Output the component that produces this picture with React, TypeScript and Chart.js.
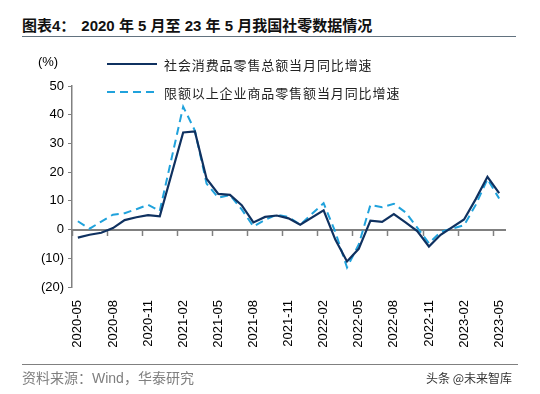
import React, { useEffect, useRef } from "react";
import { Chart, registerables } from "chart.js";

Chart.register(...registerables);

const months = [
  "2020-05", "2020-06", "2020-07", "2020-08", "2020-09", "2020-10", "2020-11", "2020-12",
  "2021-01", "2021-02", "2021-03", "2021-04", "2021-05", "2021-06", "2021-07", "2021-08",
  "2021-09", "2021-10", "2021-11", "2021-12", "2022-01", "2022-02", "2022-03", "2022-04",
  "2022-05", "2022-06", "2022-07", "2022-08", "2022-09", "2022-10", "2022-11", "2022-12",
  "2023-01", "2023-02", "2023-03", "2023-04", "2023-05",
];

const retailTotal: (number | null)[] = [
  -2.8, -1.8, -1.1, 0.5, 3.3, 4.3, 5.0, 4.6,
  null, 33.8, 34.2, 17.7, 12.4, 12.1, 8.5, 2.5,
  4.4, 4.9, 3.9, 1.7, null, 6.7, -3.5, -11.1,
  -6.7, 3.1, 2.7, 5.4, 2.5, -0.5, -5.9, -1.8,
  null, 3.5, 10.6, 18.4, 12.7,
];

const aboveQuota: (number | null)[] = [
  2.9, 0.3, 2.8, 5.2, 5.7, 7.1, 8.6, 6.5,
  null, 42.8, 34.5, 16.0, 11.1, 12.0, 7.0, 1.1,
  3.4, 5.2, 4.4, 1.7, null, 9.2, -0.8, -13.2,
  -5.2, 8.6, 7.8, 9.0, 6.0, 0.7, -4.8, -0.8,
  null, 1.5, 8.6, 17.6, 10.8,
];

const seriesNames = ["社会消费品零售总额当月同比增速", "限额以上企业商品零售额当月同比增速"];
const yMin = -20;
const yMax = 50;
const yStep = 10;

const titleLead = "图表4：";
const titleBody = "2020 年 5 月至 23 年 5 月我国社零数据情况";
const sourceText = "资料来源：Wind，华泰研究";
const watermarkText = "头条 @未来智库";
const unitText = "(%)";

const NAVY = "#0f3160";
const SKY = "#20a2dc";
const AXIS = "#808080";
const latin = "'Liberation Sans', Arial, sans-serif";
const cjk = "'Noto Sans CJK SC', sans-serif";
const mixed = "'Liberation Sans', Arial, 'Noto Sans CJK SC', sans-serif";

export default function App() {
  const ref = useRef<HTMLCanvasElement>(null);

  useEffect(() => {
    if (!ref.current) return;
    const legendPlugin = {
      id: "customLegend",
      afterDraw(chart: any) {
        const ctx = chart.ctx as CanvasRenderingContext2D;
        const left = chart.chartArea.left;
        ctx.save();
        ctx.font = `13px ${latin}`;
        ctx.fillStyle = "#000";
        ctx.textAlign = "center";
        ctx.textBaseline = "middle";
        ctx.fillText(unitText, 48, 62);
        chart.data.datasets.forEach((ds: any, i: number) => {
          const y = i === 0 ? 64 : 92;
          ctx.strokeStyle = ds.borderColor;
          ctx.lineWidth = 2;
          ctx.setLineDash(ds.borderDash || []);
          ctx.beginPath();
          ctx.moveTo(left + 35, y);
          ctx.lineTo(left + 85, y);
          ctx.stroke();
          ctx.setLineDash([]);
          ctx.font = `13px ${cjk}`;
          (ctx as any).letterSpacing = "0.9px";
          ctx.textAlign = "left";
          ctx.fillStyle = "#222";
          ctx.fillText(ds.label, left + 92, y + 1);
          (ctx as any).letterSpacing = "0px";
        });
        ctx.restore();
      },
    };

    const chart = new Chart(ref.current, {
      type: "line",
      data: {
        labels: months,
        datasets: [
          {
            label: seriesNames[0],
            data: retailTotal,
            borderColor: NAVY,
            backgroundColor: NAVY,
            borderWidth: 2.2,
            pointRadius: 0,
            spanGaps: true,
            tension: 0,
            xAxisID: "x",
          },
          {
            label: seriesNames[1],
            data: aboveQuota,
            borderColor: SKY,
            backgroundColor: SKY,
            borderWidth: 2,
            borderDash: [8, 5],
            pointRadius: 0,
            spanGaps: true,
            tension: 0,
            xAxisID: "x",
          },
        ],
      },
      options: {
        animation: false,
        responsive: false,
        devicePixelRatio: 1,
        layout: { padding: { left: 0, top: 86, right: 35, bottom: 37 } },
        plugins: { legend: { display: false }, tooltip: { enabled: false } },
        scales: {
          x: {
            type: "category",
            position: { y: 0 } as any,
            offset: true,
            grid: {
              offset: true,
              drawOnChartArea: false,
              drawTicks: true,
              tickLength: 5,
              tickWidth: 1.5,
              tickColor: (c: any) => (c.index % 3 === 0 ? AXIS : "rgba(0,0,0,0)"),
            },
            border: { display: true, color: AXIS, width: 2 },
            ticks: { display: false },
          },
          x2: {
            type: "category",
            position: "bottom",
            offset: true,
            grid: { display: false, drawTicks: false },
            border: { display: false },
            ticks: {
              autoSkip: false,
              maxRotation: 90,
              minRotation: 90,
              padding: 13,
              color: "#000",
              font: { family: latin, size: 13 },
              callback: (_v: any, i: number) => (i % 3 === 0 ? months[i] : ""),
            },
            afterFit: (s: any) => {
              s.height = 70;
            },
          },
          y: {
            min: yMin,
            max: yMax,
            ticks: {
              stepSize: yStep,
              padding: 4,
              color: "#000",
              font: { family: latin, size: 13 },
              callback: (v: any) => (Number(v) < 0 ? `(${Math.abs(Number(v))})` : `${v}`),
            },
            grid: {
              drawOnChartArea: false,
              drawTicks: true,
              tickLength: 4,
              color: AXIS,
            },
            border: { color: AXIS, width: 1.5 },
            afterFit: (s: any) => {
              s.width = 72;
            },
          },
        },
      },
      plugins: [legendPlugin],
    });
    return () => chart.destroy();
  }, []);

  return (
    <div style={{ position: "absolute", left: 0, top: 0, width: 540, height: 394, background: "#fff", overflow: "hidden" }}>
      <div
        style={{
          position: "absolute",
          left: 22,
          top: 16,
          fontFamily: mixed,
          fontWeight: 700,
          fontSize: 15,
          lineHeight: "20px",
          color: "#111",
          whiteSpace: "nowrap",
        }}
      >
        <span>{titleLead}</span>
        <span style={{ marginLeft: 6 }}>{titleBody}</span>
      </div>
      <div style={{ position: "absolute", left: 22, top: 36, width: 494, height: 1, background: "#62727f" }} />
      <canvas ref={ref} width={540} height={394} style={{ position: "absolute", left: 0, top: 0, width: 540, height: 394 }} />
      <div style={{ position: "absolute", left: 22, top: 364, width: 496, height: 1, background: AXIS }} />
      <div
        style={{
          position: "absolute",
          left: 22,
          top: 369,
          fontFamily: mixed,
          fontSize: 14,
          lineHeight: "18px",
          color: "#7f7f7f",
          whiteSpace: "nowrap",
        }}
      >
        {sourceText}
      </div>
      <div
        style={{
          position: "absolute",
          right: 28,
          top: 370,
          fontFamily: cjk,
          fontSize: 12,
          lineHeight: "16px",
          color: "#333",
          whiteSpace: "nowrap",
        }}
      >
        {watermarkText}
      </div>
    </div>
  );
}
